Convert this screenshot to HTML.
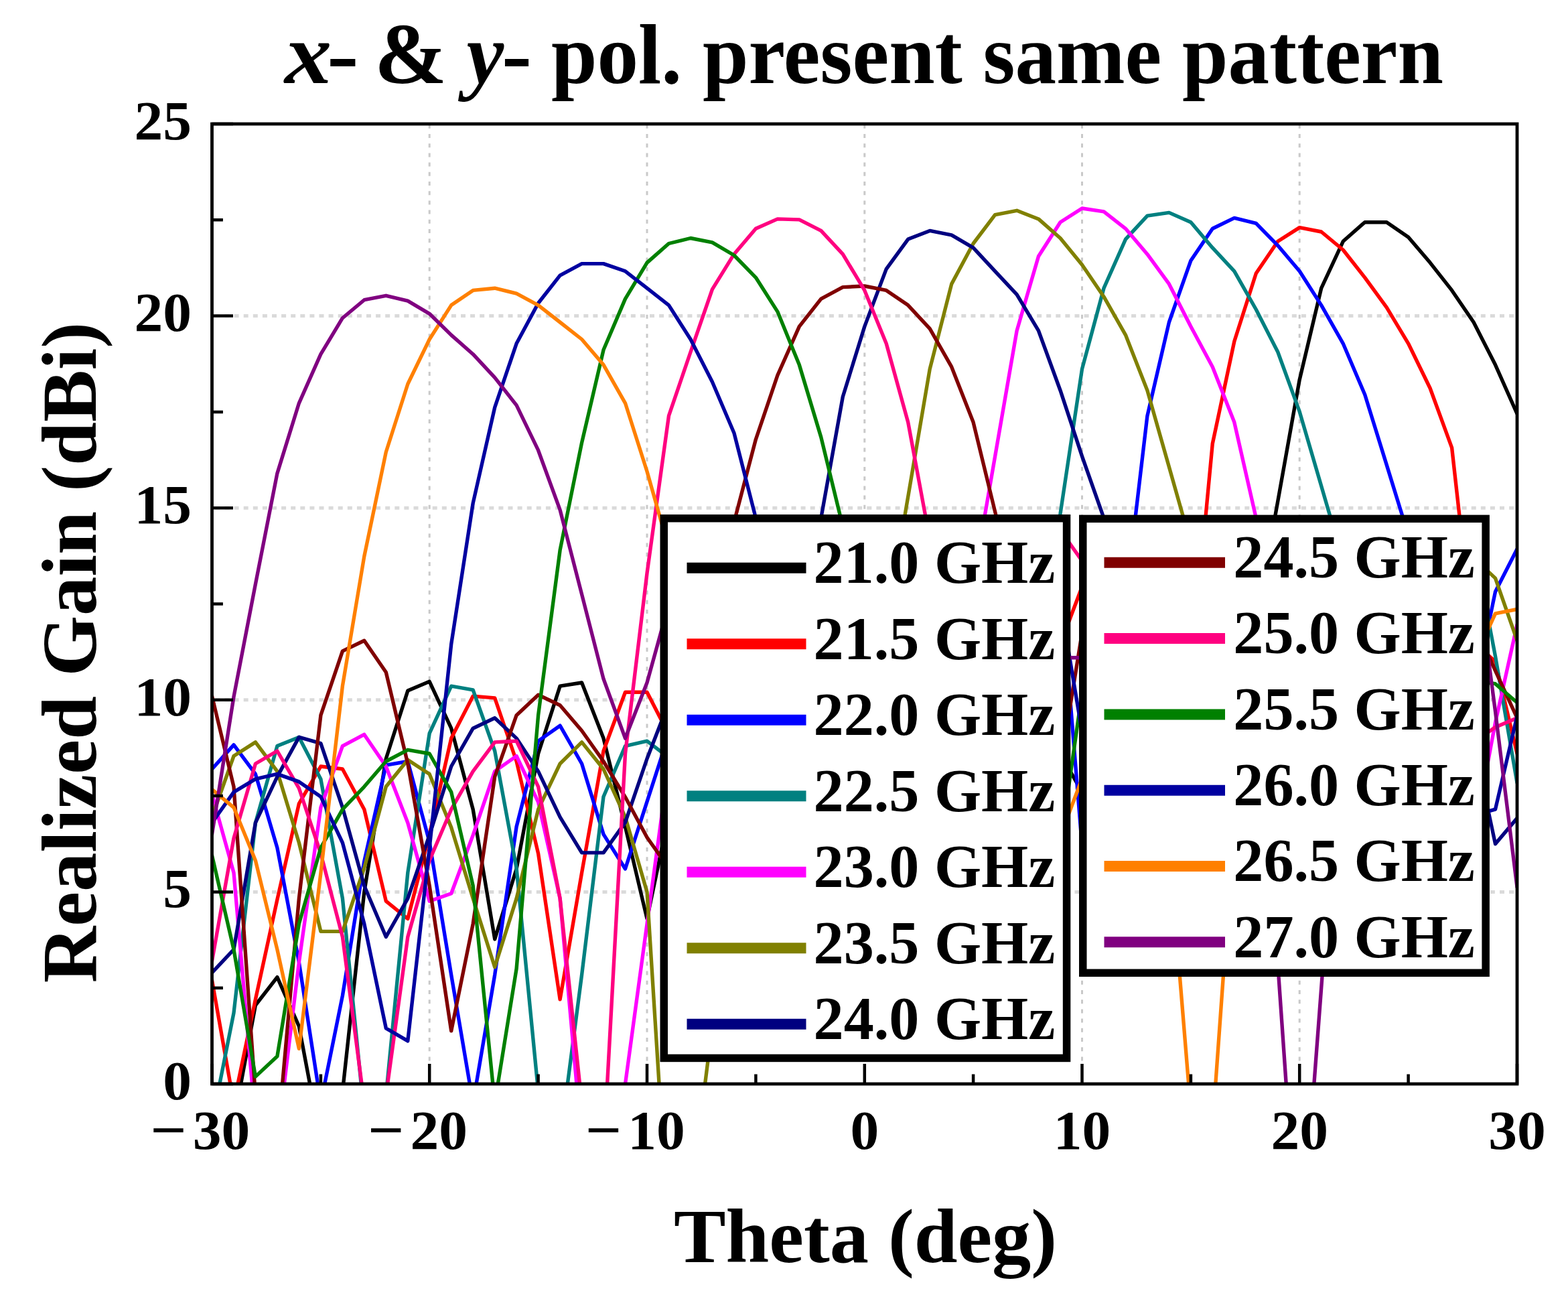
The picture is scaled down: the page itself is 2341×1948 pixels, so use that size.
<!DOCTYPE html><html><head><meta charset="utf-8"><style>html,body{margin:0;padding:0;background:#fff;overflow:hidden;width:2341px;height:1948px;}svg{display:block;}text{font-family:"Liberation Serif","Times New Roman",serif;font-weight:bold;fill:#000;}</style></head><body>
<svg width="2341" height="1948" viewBox="0 0 2341 1948">
<rect x="0" y="0" width="2341" height="1948" fill="#fff"/>
<path d="M316.5 1331.4H2265.0M316.5 1044.8H2265.0M316.5 758.2H2265.0M316.5 471.6H2265.0" stroke="#dadada" stroke-width="5" stroke-dasharray="7 7.1" stroke-dashoffset="9.2" fill="none"/>
<path d="M641.2 1618.0V185.0M966.0 1618.0V185.0M1290.8 1618.0V185.0M1615.5 1618.0V185.0M1940.2 1618.0V185.0" stroke="#c9c9c9" stroke-width="3" stroke-dasharray="6 8.2" stroke-dashoffset="8" fill="none"/>
<g fill="none" stroke-width="5.4" stroke-linejoin="round" stroke-linecap="round">
<clipPath id="pc"><rect x="316.5" y="185.0" width="1948.5" height="1433.0"/></clipPath>
<path clip-path="url(#pc)" d="M316.5 1732.6 L349.0 1675.3 L381.4 1500.5 L413.9 1458.7 L446.4 1532.0 L478.9 1704.0 L511.4 1629.5 L543.8 1331.4 L576.3 1132.5 L608.8 1031.1 L641.2 1017.3 L673.7 1087.2 L706.2 1208.2 L738.7 1401.9 L771.1 1297.0 L803.6 1125.0 L836.1 1024.2 L868.6 1019.0 L901.0 1102.1 L933.5 1234.0 L966.0 1371.5 L998.5 1216.8 L1031.0 1062.0 L1063.4 1216.8 L1095.9 1216.8 L1128.4 1216.8 L1160.8 1216.8 L1193.3 1216.8 L1225.8 1216.8 L1258.3 1216.8 L1290.8 1216.8 L1323.2 1216.8 L1355.7 1216.8 L1388.2 1216.8 L1420.7 1216.8 L1453.1 1216.8 L1485.6 1216.8 L1518.1 1216.8 L1550.5 1067.7 L1583.0 1125.0 L1615.5 1182.4 L1648.0 1239.7 L1680.5 1216.8 L1712.9 1216.8 L1745.4 1216.8 L1777.9 1216.8 L1810.3 1216.8 L1842.8 1216.8 L1875.3 929.0 L1907.8 747.9 L1940.2 566.8 L1972.7 430.2 L2005.2 360.3 L2037.7 331.7 L2070.2 331.7 L2102.6 354.0 L2135.1 392.1 L2167.6 433.4 L2200.1 481.0 L2232.5 544.6 L2265.0 617.7" stroke="#000000"/>
<path clip-path="url(#pc)" d="M316.5 1463.2 L349.0 1646.7 L381.4 1491.9 L413.9 1342.9 L446.4 1199.6 L478.9 1144.0 L511.4 1148.0 L543.8 1208.2 L576.3 1345.2 L608.8 1371.5 L641.2 1245.4 L673.7 1102.1 L706.2 1039.1 L738.7 1041.9 L771.1 1136.5 L803.6 1274.1 L836.1 1491.9 L868.6 1302.7 L901.0 1121.0 L933.5 1033.3 L966.0 1033.3 L998.5 1096.4 L1031.0 1159.4 L1063.4 1216.8 L1095.9 1216.8 L1128.4 1216.8 L1160.8 1216.8 L1193.3 1216.8 L1225.8 1216.8 L1258.3 1216.8 L1290.8 1216.8 L1323.2 1216.8 L1355.7 1216.8 L1388.2 1216.8 L1420.7 1216.8 L1453.1 1216.8 L1485.6 1216.8 L1518.1 1216.8 L1550.5 1047.7 L1583.0 961.7 L1615.5 875.7 L1648.0 789.7 L1680.5 1216.8 L1712.9 1216.8 L1745.4 1347.2 L1777.9 1004.7 L1810.3 662.1 L1842.8 509.6 L1875.3 408.0 L1907.8 360.3 L1940.2 339.6 L1972.7 346.0 L2005.2 373.0 L2037.7 414.3 L2070.2 458.8 L2102.6 512.8 L2135.1 579.5 L2167.6 668.4 L2200.1 958.8 L2232.5 987.5 L2265.0 1125.0" stroke="#FF0000"/>
<path clip-path="url(#pc)" d="M316.5 1148.0 L349.0 1111.9 L381.4 1155.4 L413.9 1265.5 L446.4 1436.3 L478.9 1646.7 L511.4 1486.2 L543.8 1285.5 L576.3 1142.2 L608.8 1136.5 L641.2 1256.9 L673.7 1455.2 L706.2 1646.7 L738.7 1455.2 L771.1 1234.0 L803.6 1106.1 L836.1 1083.2 L868.6 1140.0 L901.0 1245.4 L933.5 1297.0 L966.0 1196.7 L998.5 1096.4 L1031.0 1216.8 L1063.4 1216.8 L1095.9 1216.8 L1128.4 1216.8 L1160.8 1216.8 L1193.3 1216.8 L1225.8 1216.8 L1258.3 1216.8 L1290.8 1216.8 L1323.2 1216.8 L1355.7 1216.8 L1388.2 1216.8 L1420.7 1216.8 L1453.1 1216.8 L1485.6 1216.8 L1518.1 1216.8 L1550.5 786.9 L1583.0 861.4 L1615.5 1262.6 L1648.0 1417.3 L1680.5 895.8 L1712.9 620.8 L1745.4 481.0 L1777.9 388.9 L1810.3 341.3 L1842.8 325.4 L1875.3 333.3 L1907.8 366.6 L1940.2 404.8 L1972.7 455.6 L2005.2 512.8 L2037.7 589.0 L2070.2 693.9 L2102.6 798.7 L2135.1 1216.8 L2167.6 1195.0 L2200.1 1039.1 L2232.5 883.2 L2265.0 819.5" stroke="#0000FF"/>
<path clip-path="url(#pc)" d="M316.5 1675.3 L349.0 1512.0 L381.4 1228.2 L413.9 1113.6 L446.4 1100.4 L478.9 1162.9 L511.4 1341.1 L543.8 1663.9 L576.3 1635.2 L608.8 1302.7 L641.2 1094.7 L673.7 1024.2 L706.2 1029.9 L738.7 1121.0 L771.1 1295.9 L803.6 1629.5 L836.1 1704.0 L868.6 1455.2 L901.0 1189.2 L933.5 1113.6 L966.0 1106.1 L998.5 1130.8 L1031.0 1155.4 L1063.4 1216.8 L1095.9 1216.8 L1128.4 1216.8 L1160.8 1216.8 L1193.3 1216.8 L1225.8 1216.8 L1258.3 1216.8 L1290.8 1216.8 L1323.2 1216.8 L1355.7 1216.8 L1388.2 1216.8 L1420.7 1216.8 L1453.1 1216.8 L1485.6 1216.8 L1518.1 1216.8 L1550.5 983.0 L1583.0 767.0 L1615.5 550.9 L1648.0 430.2 L1680.5 357.1 L1712.9 322.2 L1745.4 317.4 L1777.9 331.7 L1810.3 369.9 L1842.8 404.8 L1875.3 462.0 L1907.8 525.5 L1940.2 614.4 L1972.7 725.6 L2005.2 836.8 L2037.7 1216.8 L2070.2 1216.8 L2102.6 1216.8 L2135.1 1216.8 L2167.6 786.9 L2200.1 809.8 L2232.5 979.5 L2265.0 1168.6" stroke="#008080"/>
<path clip-path="url(#pc)" d="M316.5 1185.8 L349.0 1302.7 L381.4 1675.3 L413.9 1704.0 L446.4 1436.3 L478.9 1205.3 L511.4 1113.6 L543.8 1096.4 L576.3 1144.0 L608.8 1228.2 L641.2 1345.2 L673.7 1333.7 L706.2 1246.6 L738.7 1151.4 L771.1 1128.5 L803.6 1197.3 L836.1 1341.1 L868.6 1704.0 L901.0 1732.6 L933.5 1618.0 L966.0 1379.0 L998.5 1140.0 L1031.0 1216.8 L1063.4 1216.8 L1095.9 1216.8 L1128.4 1216.8 L1160.8 1216.8 L1193.3 1216.8 L1225.8 1216.8 L1258.3 1216.8 L1290.8 1216.8 L1323.2 1216.8 L1355.7 1216.8 L1388.2 1216.8 L1420.7 1216.8 L1453.1 868.6 L1485.6 681.2 L1518.1 493.7 L1550.5 382.5 L1583.0 331.7 L1615.5 311.0 L1648.0 315.8 L1680.5 341.3 L1712.9 379.4 L1745.4 423.9 L1777.9 487.4 L1810.3 547.7 L1842.8 630.3 L1875.3 773.3 L1907.8 916.2 L1940.2 1216.8 L1972.7 1216.8 L2005.2 1216.8 L2037.7 1216.8 L2070.2 1216.8 L2102.6 1216.8 L2135.1 1216.8 L2167.6 1417.4 L2200.1 1251.2 L2232.5 1078.6 L2265.0 932.5" stroke="#FF00FF"/>
<path clip-path="url(#pc)" d="M316.5 1219.6 L349.0 1128.5 L381.4 1107.9 L413.9 1151.4 L446.4 1258.0 L478.9 1390.4 L511.4 1390.4 L543.8 1295.9 L576.3 1174.3 L608.8 1134.2 L641.2 1155.4 L673.7 1235.1 L706.2 1341.1 L738.7 1443.7 L771.1 1341.1 L803.6 1208.2 L836.1 1140.0 L868.6 1107.9 L901.0 1148.0 L933.5 1219.6 L966.0 1331.4 L998.5 1847.3 L1031.0 1790.0 L1063.4 1532.0 L1095.9 1274.1 L1128.4 1216.8 L1160.8 1216.8 L1193.3 1216.8 L1225.8 1216.8 L1258.3 1216.8 L1290.8 1216.8 L1323.2 932.2 L1355.7 741.5 L1388.2 550.9 L1420.7 423.9 L1453.1 363.5 L1485.6 320.6 L1518.1 314.3 L1550.5 326.9 L1583.0 355.5 L1615.5 395.2 L1648.0 442.9 L1680.5 500.1 L1712.9 582.7 L1745.4 697.0 L1777.9 811.5 L1810.3 1216.8 L1842.8 1216.8 L1875.3 1216.8 L1907.8 1216.8 L1940.2 1216.8 L1972.7 1216.8 L2005.2 1216.8 L2037.7 1216.8 L2070.2 1216.8 L2102.6 1216.8 L2135.1 1216.8 L2167.6 802.3 L2200.1 832.7 L2232.5 863.1 L2265.0 956.0" stroke="#808000"/>
<path clip-path="url(#pc)" d="M316.5 1451.8 L349.0 1417.4 L381.4 1228.2 L413.9 1159.4 L446.4 1100.4 L478.9 1109.6 L511.4 1205.3 L543.8 1322.2 L576.3 1398.5 L608.8 1341.1 L641.2 1246.6 L673.7 1144.0 L706.2 1087.2 L738.7 1071.7 L771.1 1102.1 L803.6 1151.4 L836.1 1219.6 L868.6 1272.9 L901.0 1272.9 L933.5 1227.7 L966.0 1132.5 L998.5 1048.8 L1031.0 965.1 L1063.4 1216.8 L1095.9 1216.8 L1128.4 1216.8 L1160.8 1216.8 L1193.3 954.4 L1225.8 773.3 L1258.3 592.2 L1290.8 487.4 L1323.2 401.6 L1355.7 357.1 L1388.2 344.4 L1420.7 350.8 L1453.1 369.9 L1485.6 404.8 L1518.1 439.7 L1550.5 493.7 L1583.0 582.7 L1615.5 681.2 L1648.0 773.3 L1680.5 865.4 L1712.9 1216.8 L1745.4 1216.8 L1777.9 1216.8 L1810.3 1216.8 L1842.8 1216.8 L1875.3 1216.8 L1907.8 1216.8 L1940.2 1216.8 L1972.7 1216.8 L2005.2 1216.8 L2037.7 1216.8 L2070.2 1216.8 L2102.6 1216.8 L2135.1 1216.8 L2167.6 956.0 L2200.1 1107.9 L2232.5 1259.8 L2265.0 1221.3" stroke="#000080"/>
<path clip-path="url(#pc)" d="M316.5 1039.1 L349.0 1174.3 L381.4 1635.2 L413.9 1704.0 L446.4 1341.1 L478.9 1067.7 L511.4 971.9 L543.8 956.3 L576.3 1003.5 L608.8 1140.0 L641.2 1322.2 L673.7 1538.9 L706.2 1379.0 L738.7 1159.4 L771.1 1067.7 L803.6 1037.3 L836.1 1052.8 L868.6 1090.7 L901.0 1136.5 L933.5 1189.8 L966.0 1250.0 L998.5 1295.9 L1031.0 1341.7 L1063.4 903.6 L1095.9 779.6 L1128.4 655.8 L1160.8 560.4 L1193.3 487.4 L1225.8 446.1 L1258.3 428.6 L1290.8 427.0 L1323.2 433.4 L1355.7 455.6 L1388.2 490.6 L1420.7 547.7 L1453.1 630.3 L1485.6 763.8 L1518.1 897.2 L1550.5 1345.7 L1583.0 1145.1 L1615.5 944.5 L1648.0 786.9 L1680.5 1216.8 L1712.9 1216.8 L1745.4 1216.8 L1777.9 1216.8 L1810.3 1216.8 L1842.8 1216.8 L1875.3 1216.8 L1907.8 1216.8 L1940.2 1216.8 L1972.7 1216.8 L2005.2 1216.8 L2037.7 1216.8 L2070.2 1216.8 L2102.6 1216.8 L2135.1 1216.8 L2167.6 859.1 L2200.1 930.2 L2232.5 1001.2 L2265.0 1071.7" stroke="#800000"/>
<path clip-path="url(#pc)" d="M316.5 1434.6 L349.0 1251.2 L381.4 1140.0 L413.9 1121.0 L446.4 1176.6 L478.9 1274.1 L511.4 1398.5 L543.8 1646.7 L576.3 1635.2 L608.8 1398.5 L641.2 1284.4 L673.7 1208.2 L706.2 1151.4 L738.7 1107.9 L771.1 1106.1 L803.6 1174.3 L836.1 1341.1 L868.6 1646.7 L901.0 1721.2 L933.5 1125.0 L966.0 855.6 L998.5 620.6 L1031.0 525.5 L1063.4 431.8 L1095.9 379.4 L1128.4 341.3 L1160.8 326.9 L1193.3 327.9 L1225.8 344.4 L1258.3 379.4 L1290.8 433.4 L1323.2 512.8 L1355.7 630.3 L1388.2 805.1 L1420.7 979.8 L1453.1 1216.8 L1485.6 1216.8 L1518.1 1216.8 L1550.5 786.9 L1583.0 791.4 L1615.5 837.3 L1648.0 883.2 L1680.5 1216.8 L1712.9 1216.8 L1745.4 1216.8 L1777.9 1216.8 L1810.3 1216.8 L1842.8 1216.8 L1875.3 1216.8 L1907.8 1216.8 L1940.2 1216.8 L1972.7 1216.8 L2005.2 1216.8 L2037.7 1216.8 L2070.2 1216.8 L2102.6 1216.8 L2135.1 1216.8 L2167.6 1130.2 L2200.1 1107.9 L2232.5 1085.5 L2265.0 1071.7" stroke="#FF0080"/>
<path clip-path="url(#pc)" d="M316.5 1276.9 L349.0 1417.4 L381.4 1607.1 L413.9 1576.7 L446.4 1379.0 L478.9 1265.5 L511.4 1208.2 L543.8 1174.3 L576.3 1136.5 L608.8 1119.3 L641.2 1125.0 L673.7 1182.4 L706.2 1322.2 L738.7 1646.7 L771.1 1446.0 L803.6 1067.7 L836.1 821.3 L868.6 660.8 L901.0 522.3 L933.5 446.1 L966.0 392.1 L998.5 363.5 L1031.0 355.5 L1063.4 361.9 L1095.9 381.0 L1128.4 414.3 L1160.8 465.1 L1193.3 544.6 L1225.8 652.6 L1258.3 786.0 L1290.8 919.4 L1323.2 1216.8 L1355.7 1216.8 L1388.2 1216.8 L1420.7 1216.8 L1453.1 1216.8 L1485.6 1216.8 L1518.1 1216.8 L1550.5 1417.4 L1583.0 1262.6 L1615.5 1033.3 L1648.0 804.1 L1680.5 1216.8 L1712.9 1216.8 L1745.4 1216.8 L1777.9 1216.8 L1810.3 1216.8 L1842.8 1216.8 L1875.3 1216.8 L1907.8 1216.8 L1940.2 1216.8 L1972.7 1216.8 L2005.2 1216.8 L2037.7 1216.8 L2070.2 1216.8 L2102.6 1216.8 L2135.1 1216.8 L2167.6 1011.6 L2200.1 1016.1 L2232.5 1020.7 L2265.0 1048.8" stroke="#008000"/>
<path clip-path="url(#pc)" d="M316.5 1228.2 L349.0 1182.4 L381.4 1162.9 L413.9 1155.4 L446.4 1166.9 L478.9 1189.2 L511.4 1258.0 L543.8 1379.0 L576.3 1534.9 L608.8 1553.8 L641.2 1265.5 L673.7 961.7 L706.2 751.0 L738.7 608.1 L771.1 512.8 L803.6 452.5 L836.1 411.1 L868.6 393.6 L901.0 393.6 L933.5 404.8 L966.0 430.2 L998.5 455.6 L1031.0 506.5 L1063.4 570.0 L1095.9 646.2 L1128.4 773.3 L1160.8 900.4 L1193.3 1216.8 L1225.8 1216.8 L1258.3 1216.8 L1290.8 1216.8 L1323.2 1216.8 L1355.7 1216.8 L1388.2 1216.8 L1420.7 1216.8 L1453.1 1216.8 L1485.6 1216.8 L1518.1 1216.8 L1550.5 786.9 L1583.0 898.1 L1615.5 1092.9 L1648.0 1287.8 L1680.5 1216.8 L1712.9 1216.8 L1745.4 1216.8 L1777.9 1216.8 L1810.3 1216.8 L1842.8 1216.8 L1875.3 1216.8 L1907.8 1216.8 L1940.2 1216.8 L1972.7 1216.8 L2005.2 1216.8 L2037.7 1216.8 L2070.2 1216.8 L2102.6 1216.8 L2135.1 1216.8 L2167.6 1225.4 L2200.1 1216.8 L2232.5 1208.2 L2265.0 1068.9" stroke="#0000A0"/>
<path clip-path="url(#pc)" d="M316.5 1178.4 L349.0 1205.3 L381.4 1284.4 L413.9 1417.4 L446.4 1565.3 L478.9 1303.3 L511.4 1023.9 L543.8 830.4 L576.3 674.8 L608.8 573.2 L641.2 506.5 L673.7 455.6 L706.2 433.4 L738.7 430.2 L771.1 438.1 L803.6 455.6 L836.1 481.0 L868.6 506.5 L901.0 544.6 L933.5 601.8 L966.0 703.7 L998.5 818.4 L1031.0 933.0 L1063.4 1216.8 L1095.9 1216.8 L1128.4 1216.8 L1160.8 1216.8 L1193.3 1216.8 L1225.8 1216.8 L1258.3 1216.8 L1290.8 1216.8 L1323.2 1216.8 L1355.7 1216.8 L1388.2 1216.8 L1420.7 1216.8 L1453.1 1216.8 L1485.6 1216.8 L1518.1 1216.8 L1550.5 1334.3 L1583.0 1248.3 L1615.5 1162.3 L1648.0 1076.3 L1680.5 1216.8 L1712.9 867.1 L1745.4 1262.6 L1777.9 1658.1 L1810.3 1681.1 L1842.8 1228.2 L1875.3 786.9 L1907.8 1216.8 L1940.2 1216.8 L1972.7 1216.8 L2005.2 1216.8 L2037.7 1216.8 L2070.2 1216.8 L2102.6 1216.8 L2135.1 1216.8 L2167.6 1059.1 L2200.1 987.5 L2232.5 915.8 L2265.0 909.5" stroke="#FF8000"/>
<path clip-path="url(#pc)" d="M316.5 1245.4 L349.0 1040.0 L381.4 872.0 L413.9 706.6 L446.4 601.8 L478.9 528.7 L511.4 474.7 L543.8 447.7 L576.3 441.3 L608.8 449.2 L641.2 468.3 L673.7 500.1 L706.2 528.7 L738.7 563.6 L771.1 604.9 L803.6 672.2 L836.1 761.1 L868.6 887.2 L901.0 1013.3 L933.5 1102.1 L966.0 1019.0 L998.5 901.5 L1031.0 786.9 L1063.4 1216.8 L1095.9 1216.8 L1128.4 1216.8 L1160.8 1216.8 L1193.3 1216.8 L1225.8 1216.8 L1258.3 1216.8 L1290.8 1216.8 L1323.2 1216.8 L1355.7 1216.8 L1388.2 1216.8 L1420.7 1216.8 L1453.1 1216.8 L1485.6 1216.8 L1518.1 1216.8 L1550.5 981.7 L1583.0 981.7 L1615.5 981.7 L1648.0 981.7 L1680.5 1216.8 L1712.9 1216.8 L1745.4 1216.8 L1777.9 1216.8 L1810.3 1216.8 L1842.8 1216.8 L1875.3 976.0 L1907.8 1440.3 L1940.2 1904.6 L1972.7 1474.7 L2005.2 1044.8 L2037.7 1216.8 L2070.2 1216.8 L2102.6 1216.8 L2135.1 1216.8 L2167.6 786.9 L2200.1 815.5 L2232.5 1062.0 L2265.0 1324.5" stroke="#800080"/>
</g>
<path d="M316.5 1618.0h31.5M316.5 1331.4h31.5M316.5 1044.8h31.5M316.5 758.2h31.5M316.5 471.6h31.5M316.5 185.0h31.5M316.5 1474.7h16.4M316.5 1188.1h16.4M316.5 901.5h16.4M316.5 614.9h16.4M316.5 328.3h16.4M316.5 1618.0v-30M478.9 1618.0v-14.5M641.2 1618.0v-30M803.6 1618.0v-14.5M966.0 1618.0v-30M1128.4 1618.0v-14.5M1290.8 1618.0v-30M1453.1 1618.0v-14.5M1615.5 1618.0v-30M1777.9 1618.0v-14.5M1940.2 1618.0v-30M2102.6 1618.0v-14.5M2265.0 1618.0v-30" stroke="#000" stroke-width="4.5" fill="none"/>
<rect x="316.5" y="185.0" width="1948.5" height="1433.0" fill="none" stroke="#000" stroke-width="4.8"/>
<rect x="991.25" y="773.75" width="601.3" height="805.7" fill="#fff" stroke="#000" stroke-width="11.5" stroke-linejoin="miter"/><line x1="1025.5" y1="847.8" x2="1203.5" y2="847.8" stroke="#000000" stroke-width="16" stroke-linecap="butt"/><text transform="translate(1214.6 870.0) scale(0.98 1)" font-size="92">21.0 GHz</text><line x1="1025.5" y1="961.3" x2="1203.5" y2="961.3" stroke="#FF0000" stroke-width="16" stroke-linecap="butt"/><text transform="translate(1214.6 983.5) scale(0.98 1)" font-size="92">21.5 GHz</text><line x1="1025.5" y1="1074.8" x2="1203.5" y2="1074.8" stroke="#0000FF" stroke-width="16" stroke-linecap="butt"/><text transform="translate(1214.6 1097.0) scale(0.98 1)" font-size="92">22.0 GHz</text><line x1="1025.5" y1="1188.3" x2="1203.5" y2="1188.3" stroke="#008080" stroke-width="16" stroke-linecap="butt"/><text transform="translate(1214.6 1210.5) scale(0.98 1)" font-size="92">22.5 GHz</text><line x1="1025.5" y1="1301.8" x2="1203.5" y2="1301.8" stroke="#FF00FF" stroke-width="16" stroke-linecap="butt"/><text transform="translate(1214.6 1324.0) scale(0.98 1)" font-size="92">23.0 GHz</text><line x1="1025.5" y1="1415.3" x2="1203.5" y2="1415.3" stroke="#808000" stroke-width="16" stroke-linecap="butt"/><text transform="translate(1214.6 1437.5) scale(0.98 1)" font-size="92">23.5 GHz</text><line x1="1025.5" y1="1528.8" x2="1203.5" y2="1528.8" stroke="#000080" stroke-width="16" stroke-linecap="butt"/><text transform="translate(1214.6 1551.0) scale(0.98 1)" font-size="92">24.0 GHz</text>
<rect x="1616.75" y="774.35" width="601.4" height="677.9" fill="#fff" stroke="#000" stroke-width="11.5" stroke-linejoin="miter"/><line x1="1648.5" y1="839.8" x2="1829" y2="839.8" stroke="#800000" stroke-width="16" stroke-linecap="butt"/><text transform="translate(1841.3 862.0) scale(0.98 1)" font-size="92">24.5 GHz</text><line x1="1648.5" y1="953.1" x2="1829" y2="953.1" stroke="#FF0080" stroke-width="16" stroke-linecap="butt"/><text transform="translate(1841.3 975.3) scale(0.98 1)" font-size="92">25.0 GHz</text><line x1="1648.5" y1="1066.4" x2="1829" y2="1066.4" stroke="#008000" stroke-width="16" stroke-linecap="butt"/><text transform="translate(1841.3 1088.6) scale(0.98 1)" font-size="92">25.5 GHz</text><line x1="1648.5" y1="1179.7" x2="1829" y2="1179.7" stroke="#0000A0" stroke-width="16" stroke-linecap="butt"/><text transform="translate(1841.3 1201.9) scale(0.98 1)" font-size="92">26.0 GHz</text><line x1="1648.5" y1="1293.0" x2="1829" y2="1293.0" stroke="#FF8000" stroke-width="16" stroke-linecap="butt"/><text transform="translate(1841.3 1315.2) scale(0.98 1)" font-size="92">26.5 GHz</text><line x1="1648.5" y1="1406.3" x2="1829" y2="1406.3" stroke="#800080" stroke-width="16" stroke-linecap="butt"/><text transform="translate(1841.3 1428.5) scale(0.98 1)" font-size="92">27.0 GHz</text>
<text transform="translate(286.0 1640.7) scale(1.03 1)" font-size="83" text-anchor="end">0</text>
<text transform="translate(286.0 1354.1) scale(1.03 1)" font-size="83" text-anchor="end">5</text>
<text transform="translate(286.0 1067.5) scale(1.03 1)" font-size="83" text-anchor="end">10</text>
<text transform="translate(286.0 780.9) scale(1.03 1)" font-size="83" text-anchor="end">15</text>
<text transform="translate(286.0 494.3) scale(1.03 1)" font-size="83" text-anchor="end">20</text>
<text transform="translate(286.0 207.7) scale(1.03 1)" font-size="83" text-anchor="end">25</text>
<text transform="translate(330.5 1715.0) scale(1.03 1)" font-size="83" text-anchor="middle">30</text>
<text transform="translate(251.5 1715.0) scale(1.15 1)" font-size="83" text-anchor="middle">−</text>
<text transform="translate(655.2 1715.0) scale(1.03 1)" font-size="83" text-anchor="middle">20</text>
<text transform="translate(576.2 1715.0) scale(1.15 1)" font-size="83" text-anchor="middle">−</text>
<text transform="translate(980.0 1715.0) scale(1.03 1)" font-size="83" text-anchor="middle">10</text>
<text transform="translate(901.0 1715.0) scale(1.15 1)" font-size="83" text-anchor="middle">−</text>
<text transform="translate(1290.8 1715.0) scale(1.03 1)" font-size="83" text-anchor="middle">0</text>
<text transform="translate(1615.5 1715.0) scale(1.03 1)" font-size="83" text-anchor="middle">10</text>
<text transform="translate(1940.2 1715.0) scale(1.03 1)" font-size="83" text-anchor="middle">20</text>
<text transform="translate(2265.0 1715.0) scale(1.03 1)" font-size="83" text-anchor="middle">30</text>
<text transform="translate(1292 1884) scale(1.012 1)" font-size="115" text-anchor="middle">Theta (deg)</text>
<text transform="translate(142.7 974) rotate(-90) scale(1.007 1)" font-size="116" text-anchor="middle">Realized Gain (dBi)</text>
<text transform="translate(425 124) scale(1.08 1)" font-size="130" font-style="italic">x</text>
<text transform="translate(488 124) scale(1.1 1)" font-size="130">-</text>
<text transform="translate(559 124) scale(1.0 1)" font-size="130">&amp;</text>
<text transform="translate(696.5 124) scale(0.965 1)" font-size="130" font-style="italic">y</text>
<text transform="translate(749 124) scale(1.04 1)" font-size="130">-</text>
<text transform="translate(823 124) scale(0.97 1)" font-size="127">pol. present same pattern</text>
</svg></body></html>
